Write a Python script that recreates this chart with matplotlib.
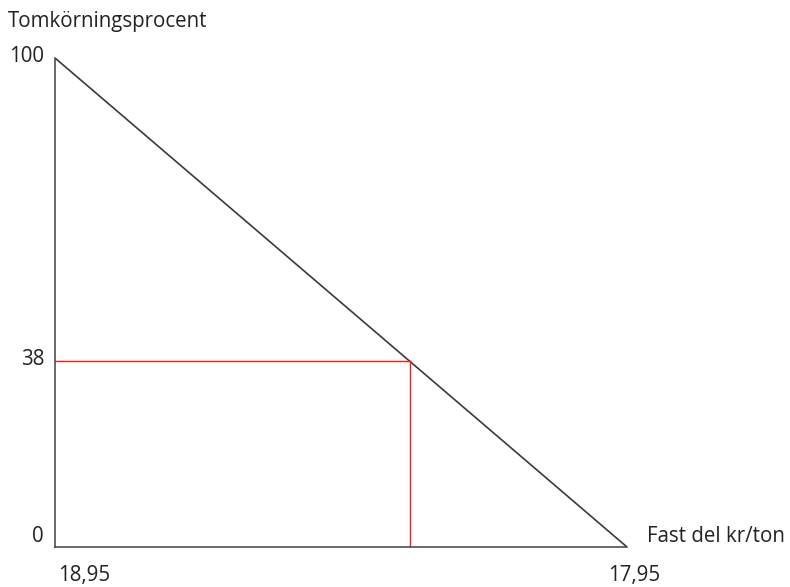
import matplotlib.pyplot as plt

plt.rcParams['font.family'] = ['Open Sans', 'DejaVu Sans']

# diagram data
x_ends = [18.95, 17.95]        # fast del kr/ton
y_ends = [100, 0]              # tomkörningsprocent
y_ticks = [0, 38, 100]
y_labels = ['0', '38', '100']
x_labels = ['18,95', '17,95']
red_x = 18.33
red_y = 38

fig = plt.figure(figsize=(7.9, 5.87), dpi=100)
ax = fig.add_axes([55/790, 40/587, 572/790, 489/587])

ax.plot(x_ends, y_ends, color='#3a3a3a', lw=1.2, solid_capstyle='butt')
# red reference lines
ax.plot([x_ends[0], red_x], [red_y, red_y], color='#ff1a1a', lw=1.0)
ax.plot([red_x, red_x], [0, red_y], color='#ff1a1a', lw=1.0)

ax.set_xlim(x_ends[0], x_ends[1])
ax.set_ylim(0, 100)
ax.set_xticks([])
ax.set_yticks([])
for s in ['top', 'right']:
    ax.spines[s].set_visible(False)
for s in ['left', 'bottom']:
    ax.spines[s].set_color('#404040')
    ax.spines[s].set_linewidth(1.1)

pt = 72 / 100  # pixels -> points
fs = 14.8
for v, lab in zip(y_ticks, y_labels):
    dy = 10 if v == 0 else 2
    ax.annotate(lab, xy=(x_ends[0], v), xytext=(-11*pt, dy*pt), textcoords='offset points',
                ha='right', va='center', fontsize=fs, color='#222222')

ax.annotate(x_labels[0], xy=(x_ends[0], 0), xytext=(3*pt, -29*pt), textcoords='offset points',
            ha='left', va='center', fontsize=fs, color='#222222')
ax.annotate(x_labels[1], xy=(x_ends[1], 0), xytext=(-19*pt, -29*pt), textcoords='offset points',
            ha='left', va='center', fontsize=fs, color='#222222')

fig.text(8/790, 1 - 22/587, 'Tomkörningsprocent', ha='left', va='center', fontsize=fs, color='#222222')
ax.annotate('Fast del kr/ton', xy=(x_ends[1], 0), xytext=(20*pt, 10*pt), textcoords='offset points',
            ha='left', va='center', fontsize=fs, color='#222222')

fig.savefig('out.png', dpi=100)
